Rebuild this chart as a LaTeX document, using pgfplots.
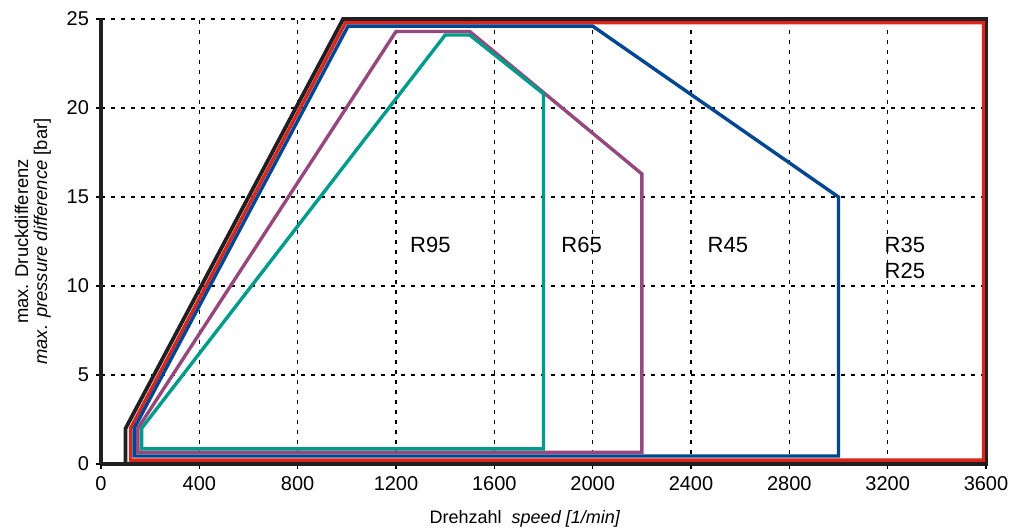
\documentclass[border=0pt]{standalone}
\usepackage{fontspec}
\setmainfont{Liberation Sans}
\usepackage{pgfplots}
\pgfplotsset{compat=1.18}
\definecolor{cblack}{RGB}{35,31,32}
\definecolor{cred}{RGB}{218,37,29}
\definecolor{cblue}{RGB}{0,70,145}
\definecolor{cpurple}{RGB}{150,72,125}
\definecolor{cteal}{RGB}{0,155,138}
\begin{document}
\begin{tikzpicture}
\path[use as bounding box] (-50.5pt,-33pt) rectangle (455.5pt,232pt);
\begin{axis}[
  scale only axis,
  width=442.5pt, height=222.5pt,
  xmin=0, xmax=3600, ymin=0, ymax=25,
  xtick={0,400,...,3600}, ytick={0,5,...,25},
  axis lines=left,
  axis line style={-, line width=1.6pt, cblack},
  grid=major,
  grid style={black, line width=0.7pt, dash pattern=on 2pt off 3pt},
  tick align=outside, major tick length=2.5pt,
  tick style={black, line width=0.8pt},
  ticklabel style={font=\fontsize{10}{12}\selectfont},
  /pgf/number format/assume math mode=true,
  /pgf/number format/set thousands separator={},
  xlabel={Drehzahl\ \ \textit{speed [1/min]}},
  xlabel style={at={(axis description cs:0.479,0)}, anchor=center, yshift=-27.5pt, font=\fontsize{9}{11}\selectfont},
  ylabel={max. Druckdifferenz\\\textit{max. pressure difference} [bar]},
  ylabel style={at={(axis description cs:-0.077,0.5)}, anchor=center, align=center, font=\fontsize{9.2}{9.6}\selectfont},
  clip=false,
  every axis plot/.append style={line width=1.7pt, line join=miter},
]
% R25
\addplot[cblack, line width=1.9pt] coordinates {(100,0) (100,2) (985,25) (3600,25) (3600,0) (100,0)} -- cycle;
% R35
\addplot[cred] coordinates {(120,0.22) (120,2) (995,24.8) (3590,24.8) (3590,0.22) (120,0.22)} -- cycle;
% R45
\addplot[cblue] coordinates {(135,0.45) (135,2) (1005,24.6) (2000,24.6) (3000,15) (3000,0.45) (135,0.45)} -- cycle;
% R65
\addplot[cpurple] coordinates {(150,0.65) (150,2) (1200,24.3) (1500,24.3) (2200,16.3) (2200,0.65) (150,0.65)} -- cycle;
% R95
\addplot[cteal] coordinates {(165,0.85) (165,2) (1400,24.1) (1500,24.1) (1800,20.8) (1800,0.85) (165,0.85)} -- cycle;
\begin{scope}[every node/.style={font=\fontsize{11}{13}\selectfont, align=center}]
\node at (axis cs:1340,12.3) {R95};
\node at (axis cs:1955,12.3) {R65};
\node at (axis cs:2550,12.3) {R45};
\node at (axis cs:3270,11.6) {R35\\R25};
\end{scope}
\end{axis}
\end{tikzpicture}
\end{document}
